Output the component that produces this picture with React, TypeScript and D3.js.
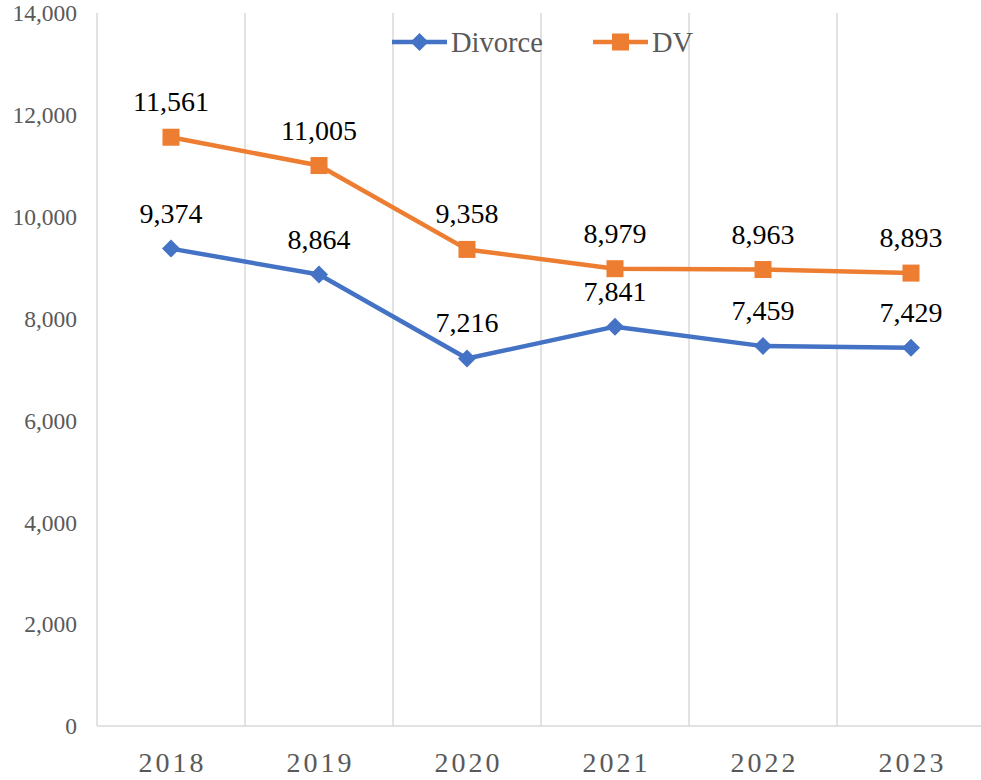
import React from "react";
import * as d3 from "d3";

const WIDTH = 981;
const HEIGHT = 780;

const years = ["2018", "2019", "2020", "2021", "2022", "2023"];
const divorce = [9374, 8864, 7216, 7841, 7459, 7429];
const dv = [11561, 11005, 9358, 8979, 8963, 8893];
const yTicks = [0, 2000, 4000, 6000, 8000, 10000, 12000, 14000];

const BLUE = "#4472C4";
const ORANGE = "#ED7D31";
const GRID = "#d9d9d9";
const AXIS_TEXT = "#595959";
const FONT = "Liberation Serif";

const PLOT_LEFT = 97;
const PLOT_RIGHT = 985;
const PLOT_TOP = 13;
const PLOT_BOTTOM = 726;

const App = () => {
  const x = d3.scaleBand<string>().domain(years).range([PLOT_LEFT, PLOT_RIGHT]).padding(0);
  const y = d3.scaleLinear().domain([0, 14000]).range([PLOT_BOTTOM, PLOT_TOP]);
  const cx = (yr: string) => (x(yr) ?? 0) + x.bandwidth() / 2;
  const fmt = d3.format(",");

  const line = d3
    .line<number>()
    .x((_, i) => cx(years[i]))
    .y((d) => y(d));

  // gridlines sit on band edges
  const edges = years.map((yr) => x(yr) ?? 0);

  const diamond = (px: number, py: number, r: number) =>
    `M${px},${py - r}L${px + r},${py}L${px},${py + r}L${px - r},${py}Z`;

  const series = [
    { name: "Divorce", values: divorce, color: BLUE, marker: "diamond" },
    { name: "DV", values: dv, color: ORANGE, marker: "square" },
  ];

  const legendItems = [
    { name: "Divorce", color: BLUE, marker: "diamond", x0: 392 },
    { name: "DV", color: ORANGE, marker: "square", x0: 593 },
  ];

  const txt = { fontFamily: FONT };

  return (
    <svg
      width={WIDTH}
      height={HEIGHT}
      style={{ position: "absolute", left: 0, top: 0, background: "#fff" }}
    >
      <rect width={WIDTH} height={HEIGHT} fill="#fff" />
      {/* vertical gridlines */}
      {edges.map((ex, i) => (
        <line key={i} x1={ex} x2={ex} y1={PLOT_TOP} y2={PLOT_BOTTOM} stroke={GRID} strokeWidth={1.5} />
      ))}
      {/* bottom axis */}
      <line x1={PLOT_LEFT} x2={PLOT_RIGHT} y1={PLOT_BOTTOM} y2={PLOT_BOTTOM} stroke={GRID} strokeWidth={1.5} />

      {/* y tick labels */}
      {yTicks.map((t) => (
        <text key={t} x={77} y={y(t)} dy="0.35em" textAnchor="end" fontSize={23.5} fill={AXIS_TEXT} style={txt}>
          {fmt(t)}
        </text>
      ))}

      {/* x labels */}
      {years.map((yr) => (
        <text
          key={yr}
          x={cx(yr) + 1.5}
          y={772}
          textAnchor="middle"
          fontSize={28}
          letterSpacing={3}
          fill={AXIS_TEXT}
          style={txt}
        >
          {yr}
        </text>
      ))}

      {/* series */}
      {series.map((s) => (
        <g key={s.name}>
          <path d={line(s.values) ?? ""} fill="none" stroke={s.color} strokeWidth={4.5} strokeLinejoin="round" />
          {s.values.map((v, i) => {
            const px = cx(years[i]);
            const py = y(v);
            return s.marker === "diamond" ? (
              <path key={i} d={diamond(px, py, 9)} fill={s.color} />
            ) : (
              <rect key={i} x={px - 8.5} y={py - 8.5} width={17} height={17} fill={s.color} />
            );
          })}
          {s.values.map((v, i) => (
            <text
              key={"l" + i}
              x={cx(years[i])}
              y={y(v) - 26}
              textAnchor="middle"
              fontSize={28}
              fill="#000"
              style={txt}
            >
              {fmt(v)}
            </text>
          ))}
        </g>
      ))}

      {/* legend */}
      {legendItems.map((l) => (
        <g key={l.name}>
          <line x1={l.x0} x2={l.x0 + 55} y1={42} y2={42} stroke={l.color} strokeWidth={4.5} />
          {l.marker === "diamond" ? (
            <path d={diamond(l.x0 + 27.5, 42, 9)} fill={l.color} />
          ) : (
            <rect x={l.x0 + 27.5 - 8.5} y={42 - 8.5} width={17} height={17} fill={l.color} />
          )}
          <text x={l.x0 + 59} y={52} fontSize={28.5} fill={AXIS_TEXT} style={txt}>
            {l.name}
          </text>
        </g>
      ))}
    </svg>
  );
};

export default App;
